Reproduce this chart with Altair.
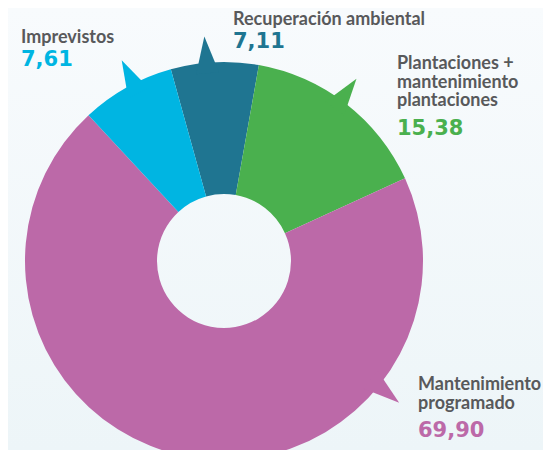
import math
import altair as alt
import pandas as pd

# ---- data ----
categories = ["Recuperación ambiental", "Plantaciones + mantenimiento plantaciones",
              "Mantenimiento programado", "Imprevistos"]
values = [7.11, 15.38, 69.90, 7.61]
value_labels = ["7,11", "15,38", "69,90", "7,61"]
name_lines = [["Recuperación ambiental"],
              ["Plantaciones +", "mantenimiento", "plantaciones"],
              ["Mantenimiento", "programado"],
              ["Imprevistos"]]
colors = ["#1F7591", "#4AB04E", "#BC69A8", "#00B5E2"]

# ---- layout (pixels, view coordinates) ----
W, H = 535, 442
CX, CY = 216, 253
R_OUT, R_IN = 199, 67
START_DEG = 344.5
pointer_deg = [355, 36, 129, 333]
name_pos = [(225, 17), (389, 61), (410, 382), (13, 35)]
num_pos = [(225, 40), (389, 127), (410, 429), (13, 58)]
LINE_H = 18.5

df = pd.DataFrame({"cat": categories, "value": values, "ord": range(4)})
color_scale = alt.Scale(domain=categories, range=colors)

start = math.radians(START_DEG)
arcs = alt.Chart(df).mark_arc(radius=R_OUT, innerRadius=R_IN).encode(
    theta=alt.Theta("value:Q", stack=True, scale=alt.Scale(range=[start, start + 2 * math.pi])),
    color=alt.Color("cat:N", scale=color_scale, legend=None),
    order=alt.Order("ord:Q"),
    x=alt.value(CX), y=alt.value(CY),
)

pdf = pd.DataFrame({
    "cat": categories,
    "px": [CX + (R_OUT - 1) * math.sin(math.radians(a)) for a in pointer_deg],
    "py": [CY - (R_OUT - 1) * math.cos(math.radians(a)) for a in pointer_deg],
    "ang": pointer_deg,
})
pointers = alt.Chart(pdf).mark_point(
    shape="M -0.42 0.35 L 0 -1 L 0.42 0.35 Z", filled=True, opacity=1, size=3000, strokeWidth=0
).encode(
    x=alt.X("px:Q", scale=None), y=alt.Y("py:Q", scale=None),
    angle=alt.Angle("ang:Q", scale=None),
    color=alt.Color("cat:N", scale=color_scale, legend=None),
)

ndf = pd.DataFrame({
    "cat": categories,
    "name": name_lines,
    "nx": [p[0] for p in name_pos], "ny": [p[1] for p in name_pos],
    "num": value_labels,
    "vx": [p[0] for p in num_pos], "vy": [p[1] for p in num_pos],
})
names = alt.Chart(ndf).mark_text(
    align="left", baseline="alphabetic", font="Lato", fontWeight="bold",
    fontSize=18, lineHeight=LINE_H, color="#58595B"
).encode(x=alt.X("nx:Q", scale=None), y=alt.Y("ny:Q", scale=None), text="name")

nums = alt.Chart(ndf).mark_text(
    align="left", baseline="alphabetic", font="DejaVu Sans", fontWeight="bold", fontSize=21
).encode(
    x=alt.X("vx:Q", scale=None), y=alt.Y("vy:Q", scale=None), text="num:N",
    color=alt.Color("cat:N", scale=color_scale, legend=None),
)

bg = alt.Chart(pd.DataFrame({"a": [0]})).mark_rect(
    color=alt.LinearGradient(gradient="linear", x1=0, x2=0, y1=0, y2=1,
                             stops=[alt.GradientStop(color="#F8FBFD", offset=0),
                                    alt.GradientStop(color="#EDF5F8", offset=1)])
).encode(x=alt.value(0), x2=alt.value(W), y=alt.value(0), y2=alt.value(H))

chart = alt.layer(bg, arcs, pointers, names, nums).properties(
    width=W, height=H, padding=0, background="#F3F8FA",
    autosize=alt.AutoSizeParams(type="none"),
).configure_view(stroke=None)

chart.save("out.html", embed_options={"renderer": "svg", "actions": False})
